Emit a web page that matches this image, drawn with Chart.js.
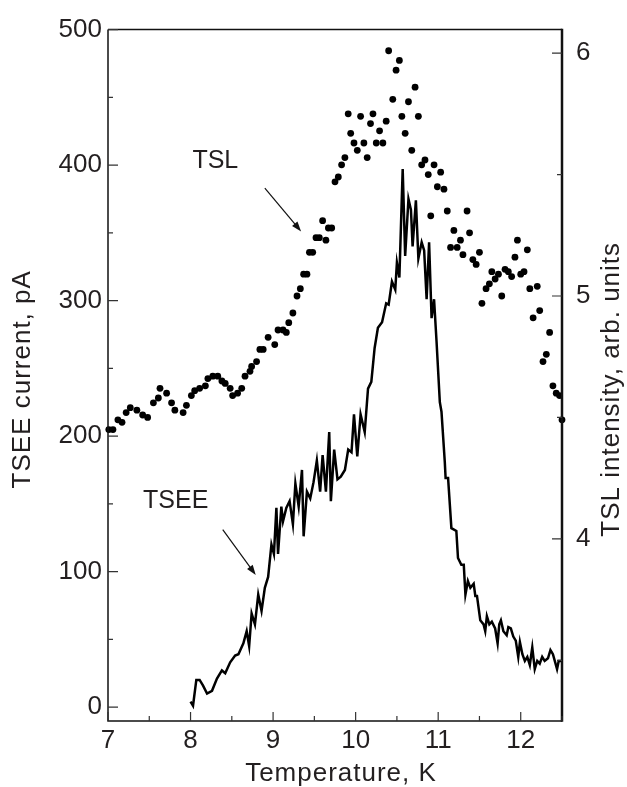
<!DOCTYPE html>
<html>
<head>
<meta charset="utf-8">
<script src="https://cdn.jsdelivr.net/npm/chart.js@4.4.1/dist/chart.umd.min.js"></script>
<style>
  html, body { margin: 0; padding: 0; background: #fff; }
  canvas { display: block; }
</style>
</head>
<body>
<canvas id="tslChart" width="627" height="787"></canvas>
<script>
// TSEE current (left axis, pA) vs temperature (K)
const tseeTemp = [
  8.00, 8.03, 8.07, 8.11, 8.15, 8.20, 8.26, 8.32, 8.38, 8.42,
  8.48, 8.54, 8.58, 8.64, 8.68, 8.71, 8.74, 8.78, 8.82, 8.86,
  8.90, 8.94, 8.98, 9.01, 9.04, 9.06, 9.10, 9.12, 9.16, 9.20,
  9.24, 9.27, 9.31, 9.35, 9.37, 9.41, 9.45, 9.49, 9.53, 9.57,
  9.60, 9.64, 9.68, 9.70, 9.74, 9.78, 9.82, 9.87, 9.91, 9.95,
  9.98, 10.02, 10.06, 10.11, 10.15, 10.19, 10.23, 10.27, 10.32, 10.37,
  10.40, 10.44, 10.48, 10.50, 10.53, 10.57, 10.60, 10.64, 10.67, 10.69,
  10.73, 10.76, 10.80, 10.83, 10.86, 10.89, 10.92, 10.95, 10.98, 11.02,
  11.04, 11.08, 11.09, 11.12, 11.16, 11.22, 11.24, 11.28, 11.31, 11.33,
  11.36, 11.39, 11.43, 11.45, 11.47, 11.51, 11.55, 11.57, 11.59, 11.62,
  11.65, 11.69, 11.72, 11.74, 11.76, 11.79, 11.83, 11.85, 11.88, 11.91,
  11.94, 11.97, 11.99, 12.02, 12.05, 12.08, 12.11, 12.14, 12.17, 12.20,
  12.23, 12.26, 12.29, 12.33, 12.36, 12.39, 12.44, 12.46, 12.50
];
const tseeCurrent = [
  4, 1, 20, 20, 16, 10, 12, 21, 27, 25,
  33, 38, 39, 47, 56, 45, 69, 61, 83, 71,
  88, 96, 120, 113, 147, 113, 148, 137, 147, 152,
  135, 165, 148, 175, 126, 159, 154, 166, 182, 159,
  186, 159, 203, 152, 190, 168, 170, 175, 190, 188,
  216, 185, 216, 203, 235, 240, 265, 280, 284, 298,
  297, 314, 308, 328, 317, 397, 333, 375, 367, 340,
  374, 331, 343, 337, 301, 343, 287, 301, 270, 225,
  218, 181, 169, 169, 132, 130, 110, 105, 105, 83,
  93, 88, 91, 82, 82, 64, 61, 56, 67, 61,
  63, 58, 47, 61, 64, 56, 53, 59, 58, 52,
  49, 37, 48, 39, 34, 37, 31, 44, 28, 34,
  32, 37, 34, 36, 42, 39, 28, 34, 34
];

// TSL intensity (right axis, arb. units) vs temperature (K)
const tslTemp = [
  7.01, 7.06, 7.12, 7.17, 7.22, 7.27, 7.35, 7.42, 7.48, 7.55,
  7.61, 7.63, 7.71, 7.77, 7.81, 7.91, 7.95, 8.01, 8.05, 8.11,
  8.18, 8.21, 8.27, 8.33, 8.38, 8.42, 8.48, 8.51, 8.57, 8.62,
  8.66, 8.72, 8.74, 8.80, 8.84, 8.88, 8.94, 9.02, 9.06, 9.12,
  9.16, 9.19, 9.24, 9.29, 9.33, 9.37, 9.41, 9.44, 9.48, 9.52,
  9.56, 9.60, 9.64, 9.67, 9.71, 9.75, 9.79, 9.83, 9.87, 9.91,
  9.94, 9.98, 10.02, 10.06, 10.10, 10.14, 10.18, 10.21, 10.25, 10.29,
  10.33, 10.37, 10.40, 10.45, 10.49, 10.53, 10.56, 10.60, 10.64, 10.68,
  10.72, 10.76, 10.80, 10.84, 10.88, 10.91, 10.95, 10.99, 11.03, 11.07,
  11.11, 11.15, 11.19, 11.23, 11.27, 11.30, 11.35, 11.38, 11.42, 11.46,
  11.50, 11.53, 11.58, 11.62, 11.65, 11.69, 11.73, 11.77, 11.81, 11.85,
  11.89, 11.93, 11.96, 12.00, 12.04, 12.08, 12.11, 12.15, 12.20, 12.23,
  12.27, 12.31, 12.35, 12.39, 12.43, 12.47, 12.50
];
const tslIntensity = [
  4.45, 4.45, 4.49, 4.48, 4.52, 4.54, 4.53, 4.51, 4.50, 4.56,
  4.58, 4.62, 4.60, 4.56, 4.53, 4.52, 4.55, 4.59, 4.61, 4.62,
  4.63, 4.66, 4.67, 4.67, 4.65, 4.64, 4.62, 4.59, 4.60, 4.62,
  4.67, 4.69, 4.71, 4.73, 4.78, 4.78, 4.83, 4.80, 4.86, 4.86,
  4.85, 4.89, 4.93, 5.00, 5.03, 5.09, 5.09, 5.18, 5.18, 5.24,
  5.24, 5.31, 5.23, 5.28, 5.28, 5.47, 5.49, 5.54, 5.57, 5.75,
  5.67, 5.63, 5.60, 5.74, 5.63, 5.57, 5.71, 5.75, 5.63, 5.68,
  5.63, 5.72, 6.01, 5.81, 5.93, 5.97, 5.74, 5.67, 5.80, 5.60,
  5.86, 5.74, 5.54, 5.56, 5.50, 5.33, 5.54, 5.45, 5.51, 5.44,
  5.35, 5.20, 5.27, 5.20, 5.23, 5.17, 5.35, 5.26, 5.15, 5.13,
  5.18, 4.97, 5.03, 5.05, 5.10, 5.07, 5.09, 5.00, 5.11, 5.10,
  5.08, 5.16, 5.23, 5.09, 5.10, 5.19, 5.03, 4.91, 5.04, 4.94,
  4.73, 4.76, 4.85, 4.63, 4.60, 4.59, 4.49
];

// tick labels
const xTicks = [7, 8, 9, 10, 11, 12];
const leftTicks = [0, 100, 200, 300, 400, 500];
const rightTicks = [4, 5, 6];

const family = "'Liberation Sans', Arial, Helvetica, sans-serif";
const textColor = '#231f20';

// curve labels with arrows, in temperature / pA units
const notes = [
  { text: 'TSL', x: 8.30, y: 403, from: [8.90, 383], to: [9.34, 351] },
  { text: 'TSEE', x: 7.82, y: 152, from: [8.39, 131], to: [8.79, 97.5] }
];

const toTicks = list => list.map(v => ({ value: v }));

// axis titles are drawn here so they can get the slight letter spacing of the original
function drawTitle(ctx, text, x, y, rot) {
  ctx.save();
  ctx.translate(x, y);
  ctx.rotate(rot);
  ctx.font = '26px ' + family;
  ctx.letterSpacing = '1px';
  ctx.fillStyle = textColor;
  ctx.textAlign = 'center';
  ctx.textBaseline = 'middle';
  ctx.fillText(text, 0, 0);
  ctx.restore();
}

// box frame, inward ticks, titles and curve labels
const framePlugin = {
  id: 'frame',
  afterDatasetsDraw(chart) {
    const { ctx, chartArea: a, scales } = chart;
    const x = scales.x, y = scales.y, y2 = scales.y2;
    ctx.save();

    ctx.strokeStyle = '#111';
    ctx.lineWidth = 1.5;
    ctx.beginPath();
    ctx.moveTo(a.left, a.top);
    ctx.lineTo(a.left, a.bottom);
    ctx.lineTo(a.right, a.bottom);
    ctx.moveTo(a.left, a.top);
    ctx.lineTo(a.right, a.top);
    ctx.stroke();
    ctx.lineWidth = 2.5;
    ctx.beginPath();
    ctx.moveTo(a.right, a.top - 0.75);
    ctx.lineTo(a.right, a.bottom + 0.75);
    ctx.stroke();

    ctx.strokeStyle = '#333';
    ctx.lineWidth = 1.2;
    ctx.beginPath();
    for (let v = 7; v <= 12.5; v += 0.5) {
      const px = x.getPixelForValue(v);
      const len = Number.isInteger(v) ? 9 : 5;
      ctx.moveTo(px, a.bottom);
      ctx.lineTo(px, a.bottom - len);
    }
    for (let v = 0; v <= 500; v += 50) {
      const py = y.getPixelForValue(v);
      const len = v % 100 === 0 ? 10 : 5;
      ctx.moveTo(a.left, py);
      ctx.lineTo(a.left + len, py);
    }
    for (let v = 3.5; v <= 6; v += 0.5) {
      const py = y2.getPixelForValue(v);
      const len = Number.isInteger(v) ? 10 : 5;
      ctx.moveTo(a.right, py);
      ctx.lineTo(a.right - len, py);
    }
    ctx.stroke();

    const midY = (a.top + a.bottom) / 2 + 4;
    drawTitle(ctx, 'TSEE current, pA', 23, midY, -Math.PI / 2);
    drawTitle(ctx, 'TSL intensity, arb. units', 612, midY + 10, -Math.PI / 2);
    drawTitle(ctx, 'Temperature, K', (a.left + a.right) / 2 + 6, 774, 0);

    // curve labels and arrows
    ctx.font = '25px ' + family;
    ctx.textAlign = 'center';
    ctx.textBaseline = 'middle';
    notes.forEach(n => {
      ctx.fillStyle = textColor;
      ctx.fillText(n.text, x.getPixelForValue(n.x), y.getPixelForValue(n.y));
      const x0 = x.getPixelForValue(n.from[0]), y0 = y.getPixelForValue(n.from[1]);
      const x1 = x.getPixelForValue(n.to[0]), y1 = y.getPixelForValue(n.to[1]);
      const ang = Math.atan2(y1 - y0, x1 - x0);
      ctx.strokeStyle = '#111';
      ctx.lineWidth = 1.2;
      ctx.beginPath();
      ctx.moveTo(x0, y0);
      ctx.lineTo(x1 - 6 * Math.cos(ang), y1 - 6 * Math.sin(ang));
      ctx.stroke();
      ctx.fillStyle = '#111';
      ctx.beginPath();
      ctx.moveTo(x1, y1);
      ctx.lineTo(x1 - 10 * Math.cos(ang) + 3.5 * Math.sin(ang), y1 - 10 * Math.sin(ang) - 3.5 * Math.cos(ang));
      ctx.lineTo(x1 - 10 * Math.cos(ang) - 3.5 * Math.sin(ang), y1 - 10 * Math.sin(ang) + 3.5 * Math.cos(ang));
      ctx.closePath();
      ctx.fill();
    });

    ctx.restore();
  }
};

const ctx = document.getElementById('tslChart').getContext('2d');
new Chart(ctx, {
  type: 'scatter',
  data: {
    datasets: [
      {
        label: 'TSL',
        data: tslTemp.map((t, i) => ({ x: t, y: tslIntensity[i] })),
        yAxisID: 'y2',
        showLine: false,
        pointRadius: 3.4,
        pointBackgroundColor: '#000',
        pointBorderWidth: 0,
        clip: 6
      },
      {
        label: 'TSEE',
        data: tseeTemp.map((t, i) => ({ x: t, y: tseeCurrent[i] })),
        yAxisID: 'y',
        showLine: true,
        borderColor: '#000',
        borderWidth: 2.5,
        pointRadius: 0,
        tension: 0
      }
    ]
  },
  options: {
    responsive: false,
    animation: false,
    layout: { padding: { top: 25, left: 0, right: 0, bottom: 0 } },
    plugins: { legend: { display: false }, tooltip: { enabled: false } },
    scales: {
      x: {
        type: 'linear',
        min: 7,
        max: 12.5,
        afterBuildTicks: s => { s.ticks = toTicks(xTicks); },
        afterFit: s => { s.height = 66; },
        grid: { display: false, drawTicks: false },
        border: { display: false },
        ticks: { color: textColor, font: { family, size: 26 }, padding: 4, maxRotation: 0 }
      },
      y: {
        position: 'left',
        min: -10.3,
        max: 500,
        afterBuildTicks: s => { s.ticks = toTicks(leftTicks); },
        afterFit: s => { s.width = 108; },
        grid: { display: false, drawTicks: false },
        border: { display: false },
        ticks: { color: textColor, font: { family, size: 26 }, padding: 6 }
      },
      y2: {
        position: 'right',
        min: 3.25,
        max: 6.097,
        afterBuildTicks: s => { s.ticks = toTicks(rightTicks); },
        afterFit: s => { s.width = 65; },
        grid: { display: false, drawTicks: false },
        border: { display: false },
        ticks: { color: textColor, font: { family, size: 26 }, padding: 14 }
      }
    }
  },
  plugins: [framePlugin]
});
</script>
</body>
</html>
